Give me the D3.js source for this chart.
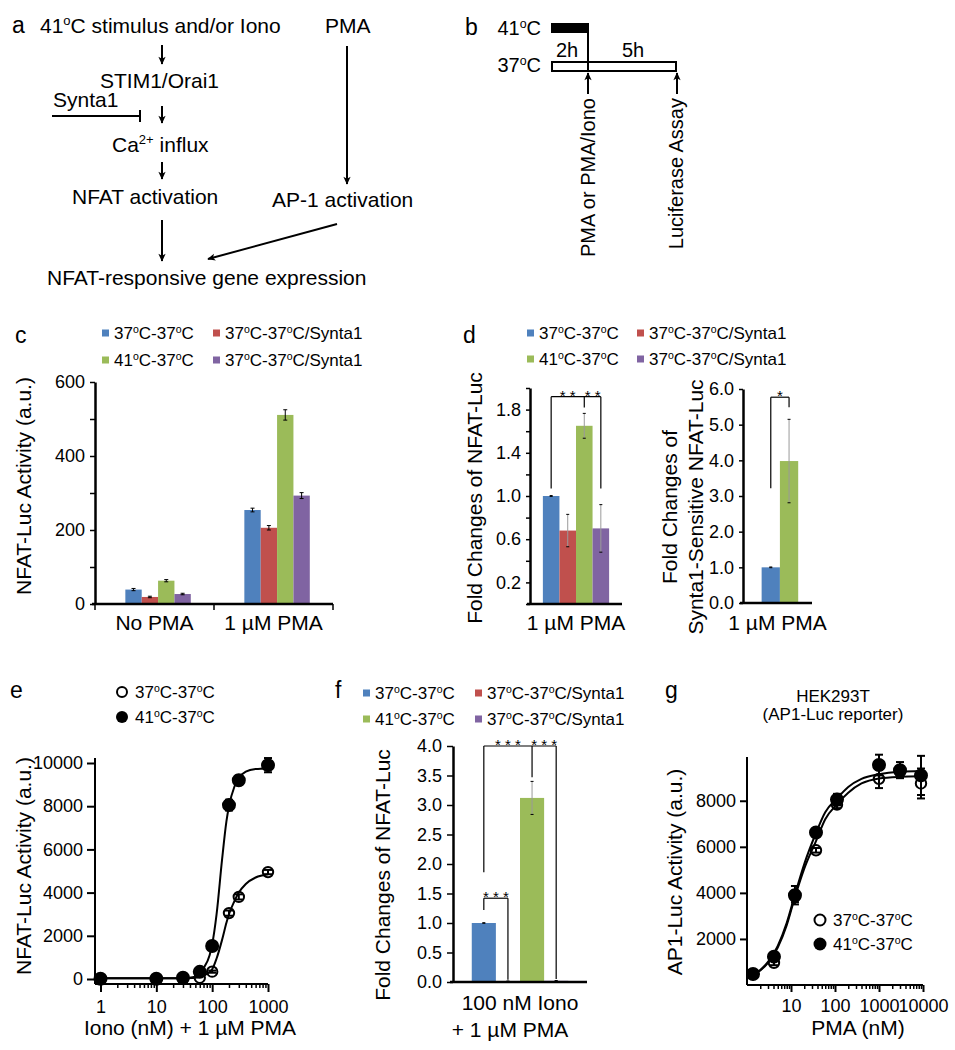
<!DOCTYPE html>
<html><head><meta charset="utf-8">
<script src="https://cdn.jsdelivr.net/npm/d3@7"></script>
<style>
body{margin:0;background:#fff}
svg{display:block}
text{font-family:"Liberation Sans",Arial,Helvetica,sans-serif;fill:#000}
</style>
</head><body>
<svg id="fig" width="955" height="1050"></svg>
<script>
// ================= DATA =================
const legendLabels = ["37°C-37°C", "37°C-37°C/Synta1", "41°C-37°C", "37°C-37°C/Synta1"];
const barColors = ["#4F81BD", "#C0504D", "#9BBB59", "#8064A2"];

// panel c
const cCategories = ["No PMA", "1 µM PMA"];
const c37 = [39, 254];
const c37Synta = [19, 206];
const c41 = [63, 511];
const c41Synta = [27, 293];
const c37Err = [3, 5];
const c37SyntaErr = [2, 6];
const c41Err = [3, 14];
const c41SyntaErr = [2, 8];
const cYTicks = [0, 100, 200, 300, 400, 500, 600];
const cYTickLabels = ["0", "", "200", "", "400", "", "600"];

// panel d (left)
const dCategory = ["1 µM PMA"];
const dValues = [1.0, 0.68, 1.65, 0.70];
const dErr = [0.004, 0.15, 0.115, 0.22];
const dYTicks = [0, 0.2, 0.4, 0.6, 0.8, 1.0, 1.2, 1.4, 1.6, 1.8, 2.0];
const dYTickLabels = ["", "0.2", "", "0.6", "", "1.0", "", "1.4", "", "1.8", ""];
// panel d (right)
const dSensValues = [1.0, 3.98];
const dSensErr = [0.01, 1.17];
const dSensColors = ["#4F81BD", "#9BBB59"];
const dSensYTicks = [0, 1, 2, 3, 4, 5, 6];
const dSensYTickLabels = ["0.0", "1.0", "2.0", "3.0", "4.0", "5.0", "6.0"];

// panel e
const eX = [1, 10, 30, 60, 100, 200, 300, 1000];
const e37 = [10, 10, 20, 60, 340, 3050, 3800, 4950];
const e41 = [15, 15, 60, 330, 1530, 8050, 9200, 9900];
const e37Err = [0, 0, 0, 0, 50, 120, 120, 100];
const e41Err = [0, 0, 0, 0, 80, 250, 220, 330];
const eFitX = [1, 10, 30, 50, 70, 90, 100, 120, 150, 180, 200, 250, 300, 400, 600, 1000];
const eFit41 = [30, 30, 40, 100, 500, 1100, 1600, 3000, 5500, 7300, 8000, 8900, 9300, 9600, 9720, 9750];
const eFit37 = [30, 30, 40, 60, 150, 330, 450, 950, 1800, 2600, 3000, 3600, 4000, 4400, 4700, 4850];
const eYTicks = [0, 2000, 4000, 6000, 8000, 10000];
const eXTicks = [1, 10, 100, 1000];

// panel f
const fCategory = ["100 nM Iono"];
const fValues = [1.0, 0.012, 3.12, 0.02];
const fErr = [0.005, 0.005, 0.28, 0.005];
const fYTicks = [0, 0.5, 1.0, 1.5, 2.0, 2.5, 3.0, 3.5, 4.0];
const fYTickLabels = ["0.0", "0.5", "1.0", "1.5", "2.0", "2.5", "3.0", "3.5", "4.0"];

// panel g
const gX = [1.37, 4.1, 12.3, 37, 111, 1000, 3000, 9000];
const g37 = [470, 960, 3850, 5850, 7830, 8950, 9250, 8750];
const g41 = [480, 1230, 3900, 6620, 8050, 9550, 9330, 9100];
const g37Err = [60, 100, 250, 100, 150, 400, 250, 650];
const g41Err = [60, 120, 400, 120, 250, 450, 350, 850];
const gFitX = [1.37, 2, 3, 5, 8, 12, 20, 37, 60, 111, 200, 400, 1000, 3000, 9000];
const gFit41 = [440, 650, 1000, 1700, 2700, 3850, 5250, 6600, 7500, 8100, 8600, 8950, 9150, 9260, 9290];
const gFit37 = [440, 630, 960, 1630, 2600, 3750, 5050, 6250, 7200, 7850, 8350, 8750, 8970, 9040, 9060];
const gYTicks = [2000, 4000, 6000, 8000];
const gXTicks = [10, 100, 1000, 10000];

// ================= HELPERS =================
const svg = d3.select("#fig");
const defs = svg.append("defs");
defs.append("marker").attr("id", "ah").attr("viewBox", "0 0 10 10")
  .attr("refX", 9).attr("refY", 5).attr("markerWidth", 9).attr("markerHeight", 8)
  .attr("markerUnits", "userSpaceOnUse").attr("orient", "auto")
  .append("path").attr("d", "M0,0.5 L10,5 L0,9.5 L2.5,5 Z").attr("fill", "#000");

function rich(t, str, size) {
  const tokens = str.split(/(°|\^\{[^}]*\})/).filter(s => s !== "");
  let raised = false;
  tokens.forEach(tok => {
    if (tok === "°" || tok.startsWith("^{")) {
      const s = tok === "°" ? "o" : tok.slice(2, -1);
      t.append("tspan").attr("font-size", size * 0.62).attr("dy", raised ? 0 : -size * 0.36).text(s);
      raised = true;
    } else {
      const sp = t.append("tspan").text(tok);
      if (raised) sp.attr("dy", size * 0.36);
      raised = false;
    }
  });
}
function txt(x, y, str, size, anchor, rot) {
  const t = svg.append("text").attr("font-size", size).attr("text-anchor", anchor || "start");
  if (rot) t.attr("transform", `translate(${x},${y}) rotate(${rot})`);
  else t.attr("x", x).attr("y", y);
  rich(t, str, size);
  return t;
}
function line(x1, y1, x2, y2, w, col, arrow) {
  const l = svg.append("line").attr("x1", x1).attr("y1", y1).attr("x2", x2).attr("y2", y2)
    .attr("stroke", col || "#000").attr("stroke-width", w || 2);
  if (arrow) l.attr("marker-end", "url(#ah)");
  return l;
}
function legend(x, y, colDx, rowDy) {
  legendLabels.forEach((lab, i) => {
    const lx = x + (i % 2) * colDx, ly = y + Math.floor(i / 2) * rowDy;
    svg.append("rect").attr("x", lx).attr("y", ly - 3.5).attr("width", 7).attr("height", 7).attr("fill", barColors[i]);
    txt(lx + 12, ly + 6, lab, 17);
  });
}
function styleAxis(g, size) {
  g.attr("font-family", null).attr("font-size", null);
  g.selectAll("text").attr("font-size", size || 18).attr("fill", "#000");
  g.selectAll("line").attr("stroke", "#000");
}

// generic grouped bar chart
function barChart(cfg) {
  const y = d3.scaleLinear().domain(cfg.yDomain).range([cfg.yBottom, cfg.yTop]);
  const x0 = d3.scaleBand().domain(cfg.categories).range([cfg.xLeft, cfg.xRight]);
  const bw = x0.bandwidth();
  const x1 = d3.scaleBand().domain(d3.range(cfg.series.length)).range([bw * cfg.inner[0], bw * cfg.inner[1]]);
  const g = svg.append("g");
  cfg.series.forEach((vals, s) => {
    cfg.categories.forEach((cat, k) => {
      const v = vals[k], e = cfg.errors[s][k];
      const bx = x0(cat) + x1(s);
      g.append("rect").attr("x", bx).attr("y", y(v)).attr("width", x1.bandwidth())
        .attr("height", y(0) - y(v)).attr("fill", cfg.colors[s]);
      const cx = bx + x1.bandwidth() / 2;
      g.append("line").attr("x1", cx).attr("x2", cx).attr("y1", y(v - e)).attr("y2", y(v + e))
        .attr("stroke", cfg.errColor).attr("stroke-width", cfg.errW);
      [v - e, v + e].forEach(ev => g.append("line").attr("x1", cx - cfg.capW / 2).attr("x2", cx + cfg.capW / 2)
        .attr("y1", y(ev)).attr("y2", y(ev)).attr("stroke", "#000").attr("stroke-width", 1));
    });
  });
  const ay = g.append("g").attr("transform", `translate(${cfg.xLeft},0)`)
    .call(d3.axisLeft(y).tickValues(cfg.yTicks).tickSize(cfg.tickLen).tickSizeOuter(0).tickPadding(cfg.tickPad)
      .tickFormat((d, i) => cfg.yTickLabels[i]));
  styleAxis(ay, 18);
  ay.select(".domain").attr("stroke", "#000").attr("stroke-width", 2.5);
  ay.selectAll(".tick line").attr("stroke-width", 1.5);
  const ax = g.append("g").attr("transform", `translate(0,${y(0)})`)
    .call(d3.axisBottom(x0).tickSize(0).tickSizeOuter(0).tickPadding(cfg.xPad));
  styleAxis(ax, 21);
  ax.select(".domain").attr("stroke", "#000").attr("stroke-width", 2.5)
    .attr("d", `M${cfg.xLeft - 3},0H${cfg.xRight}`);
  if (cfg.dividers) {
    const b = cfg.categories.map(c => x0(c)).concat([x0(cfg.categories[cfg.categories.length - 1]) + bw]);
    b.forEach(bx => g.append("line").attr("x1", bx).attr("x2", bx).attr("y1", y(0)).attr("y2", y(0) + 6)
      .attr("stroke", "#000").attr("stroke-width", 1.5));
  }
  const xc = i => x0(cfg.categories[0]) + x1(i) + x1.bandwidth() / 2;
  return { x0, x1, y, xc };
}
function bracket(p, top, legs, stars, starSize) {
  const xs = legs.map(l => p.xc(l[0]));
  line(d3.min(xs), p.y(top), d3.max(xs), p.y(top), 1.2);
  legs.forEach(l => line(p.xc(l[0]), p.y(top), p.xc(l[0]), p.y(l[1]), 1.2));
  stars.forEach(s => {
    const sx = (p.xc(s[0]) + p.xc(s[1])) / 2;
    svg.append("text").attr("x", sx).attr("y", p.y(top) + 4).attr("text-anchor", "middle")
      .attr("font-size", starSize || 15).text(s[2]);
  });
}

// ================= PANEL A =================
txt(12, 33, "a", 23);
txt(40, 33, "41°C stimulus and/or Iono", 21);
txt(325, 33, "PMA", 21);
line(162, 45, 162, 64, 2, null, true);
txt(100, 88, "STIM1/Orai1", 21);
txt(53, 107, "Synta1", 21);
line(52, 116, 140, 116, 2);
line(140, 110, 140, 122, 2);
line(162, 106, 162, 123, 2, null, true);
{
  const t = svg.append("text").attr("x", 112).attr("y", 152).attr("font-size", 21);
  rich(t, "Ca^{2+} influx", 21);
}
line(162, 162, 162, 179, 2, null, true);
txt(72, 204, "NFAT activation", 21);
txt(272, 207, "AP-1 activation", 21);
line(347, 46, 347, 184, 2, null, true);
line(162, 220, 162, 261, 2, null, true);
line(337, 224, 208, 259, 2, null, true);
txt(47, 285, "NFAT-responsive gene expression", 21);

// ================= PANEL B =================
txt(465, 35, "b", 23);
txt(541, 35, "41°C", 20, "end");
txt(541, 72, "37°C", 20, "end");
svg.append("rect").attr("x", 551).attr("y", 23).attr("width", 37).attr("height", 10).attr("fill", "#000");
svg.append("rect").attr("x", 552).attr("y", 62).attr("width", 124).attr("height", 9)
  .attr("fill", "#fff").attr("stroke", "#000").attr("stroke-width", 2);
line(588, 23, 588, 72, 2);
txt(567, 57, "2h", 20, "middle");
txt(633, 57, "5h", 20, "middle");
line(588, 94, 588, 73, 2, null, true);
line(677, 94, 677, 73, 2, null, true);
txt(595, 98, "PMA or PMA/Iono", 20, "end", -90);
txt(683, 98, "Luciferase Assay", 20, "end", -90);

// ================= PANEL C =================
txt(15, 343, "c", 23);
legend(102, 333, 111, 27);
barChart({
  categories: cCategories,
  series: [c37, c37Synta, c41, c41Synta],
  errors: [c37Err, c37SyntaErr, c41Err, c41SyntaErr],
  colors: barColors,
  yDomain: [0, 600], yBottom: 604, yTop: 382,
  xLeft: 95, xRight: 333, inner: [0.255, 0.805],
  yTicks: cYTicks, yTickLabels: cYTickLabels,
  tickLen: 5, tickPad: 5, xPad: 11,
  errColor: "#000", errW: 1, capW: 4, dividers: true
});
txt(31, 486, "NFAT-Luc Activity (a.u.)", 21, "middle", -90);

// ================= PANEL D =================
txt(463, 343, "d", 23);
legend(527, 333, 110, 26);
const pd = barChart({
  categories: dCategory,
  series: dValues.map(v => [v]),
  errors: dErr.map(e => [e]),
  colors: barColors,
  yDomain: [0, 2], yBottom: 604, yTop: 388,
  xLeft: 530, xRight: 622, inner: [0.14, 0.86],
  yTicks: dYTicks, yTickLabels: dYTickLabels,
  tickLen: 4, tickPad: 5, xPad: 11,
  errColor: "#9a9a9a", errW: 1, capW: 3
});
bracket(pd, 1.92, [[0, 1.07], [2, 1.82], [3, 1.07]], [[0, 2, "* *"], [2, 3, "* *"]]);
txt(482, 498, "Fold Changes of NFAT-Luc", 21, "middle", -90);

const pd2 = barChart({
  categories: dCategory,
  series: dSensValues.map(v => [v]),
  errors: dSensErr.map(e => [e]),
  colors: dSensColors,
  yDomain: [0, 6], yBottom: 603, yTop: 389,
  xLeft: 743, xRight: 812, inner: [0.27, 0.8],
  yTicks: dSensYTicks, yTickLabels: dSensYTickLabels,
  tickLen: 4, tickPad: 5, xPad: 12,
  errColor: "#9a9a9a", errW: 1, capW: 3
});
bracket(pd2, 5.77, [[0, 3.22], [1, 5.49]], [[0, 1, "*"]]);
txt(677, 507, "Fold Changes of", 21, "middle", -90);
txt(703, 507, "Synta1-Sensitive NFAT-Luc", 21, "middle", -90);

// ================= PANEL E =================
txt(10, 698, "e", 23);
{
  const ex = d3.scaleLog().domain([1, 1000]).range([100.5, 268]);
  const ey = d3.scaleLinear().domain([0, 10000]).range([979, 763]);
  const axX = 95, axY = 984;
  const g = svg.append("g");
  const ay = g.append("g").attr("transform", `translate(${axX},0)`)
    .call(d3.axisLeft(ey).tickValues(eYTicks).tickSize(8).tickPadding(4).tickSizeOuter(0).tickFormat(d3.format("d")));
  styleAxis(ay, 18);
  ay.select(".domain").attr("stroke", "#000").attr("stroke-width", 2).attr("d", `M0,758V${axY}`);
  ay.selectAll(".tick line").attr("stroke-width", 2);
  const minor = [];
  for (let k = 0; k < 3; k++) for (let m = 2; m <= 9; m++) minor.push(m * Math.pow(10, k));
  const axm = g.append("g").attr("transform", `translate(0,${axY})`)
    .call(d3.axisBottom(ex).tickValues(minor).tickSize(4).tickFormat(""));
  axm.select(".domain").remove();
  axm.selectAll("line").attr("stroke", "#000").attr("stroke-width", 1.5);
  const ax = g.append("g").attr("transform", `translate(0,${axY})`)
    .call(d3.axisBottom(ex).tickValues(eXTicks).tickSize(8).tickPadding(8).tickSizeOuter(0).tickFormat(d3.format("d")));
  styleAxis(ax, 18);
  ax.select(".domain").attr("stroke", "#000").attr("stroke-width", 2).attr("d", `M${axX},0H${ex(1000)}`);
  ax.selectAll(".tick line").attr("stroke-width", 2);
  const ln = d3.line().x(d => ex(d[0])).y(d => ey(d[1])).curve(d3.curveMonotoneX);
  [eFit37, eFit41].forEach(f => g.append("path").attr("d", ln(eFitX.map((x, i) => [x, f[i]])))
    .attr("fill", "none").attr("stroke", "#000").attr("stroke-width", 2));
  [[e37, e37Err, "none"], [e41, e41Err, "#000"]].forEach(([vals, errs, fill]) => {
    vals.forEach((v, i) => {
      const cx = ex(eX[i]);
      if (errs[i] > 0) {
        g.append("line").attr("x1", cx).attr("x2", cx).attr("y1", ey(v - errs[i])).attr("y2", ey(v + errs[i])).attr("stroke", "#000").attr("stroke-width", 2);
        [v - errs[i], v + errs[i]].forEach(ev => g.append("line").attr("x1", cx - 4).attr("x2", cx + 4).attr("y1", ey(ev)).attr("y2", ey(ev)).attr("stroke", "#000").attr("stroke-width", 2));
      }
      g.append("circle").attr("cx", cx).attr("cy", ey(v)).attr("r", fill === "none" ? 5.2 : 6)
        .attr("fill", fill).attr("stroke", "#000").attr("stroke-width", 2);
    });
  });
  svg.append("circle").attr("cx", 122).attr("cy", 692).attr("r", 5).attr("fill", "#fff").attr("stroke", "#000").attr("stroke-width", 2);
  svg.append("circle").attr("cx", 122).attr("cy", 717).attr("r", 6).attr("fill", "#000");
  txt(135, 698, "37°C-37°C", 17);
  txt(135, 723, "41°C-37°C", 17);
  txt(31, 866, "NFAT-Luc Activity (a.u.)", 21, "middle", -90);
  txt(190, 1035, "Iono (nM) + 1 µM PMA", 21, "middle");
}

// ================= PANEL F =================
txt(335, 698, "f", 23);
legend(363, 693, 112, 26);
const pf = barChart({
  categories: fCategory,
  series: fValues.map(v => [v]),
  errors: fErr.map(e => [e]),
  colors: barColors,
  yDomain: [0, 4], yBottom: 982, yTop: 746,
  xLeft: 453, xRight: 587, inner: [0.14, 0.86],
  yTicks: fYTicks, yTickLabels: fYTickLabels,
  tickLen: 6, tickPad: 5, xPad: 13,
  errColor: "#9a9a9a", errW: 1, capW: 3
});
bracket(pf, 4.0, [[0, 1.86], [2, 3.47], [3, 0.05]], [[0, 2, "* * *"], [2, 3, "* * *"]]);
bracket(pf, 1.42, [[0, 1.22], [1, 0.04]], [[0, 1, "* * *"]]);
txt(510, 1037, "+ 1 µM PMA", 21, "middle");
txt(390, 875, "Fold Changes of NFAT-Luc", 21, "middle", -90);

// ================= PANEL G =================
txt(665, 698, "g", 23);
txt(833, 702, "HEK293T", 17, "middle");
txt(833, 720, "(AP1-Luc reporter)", 17, "middle");
{
  const gx = d3.scaleLog().domain([1, 10000]).range([747, 923]);
  const gy = d3.scaleLinear().domain([0, 9900]).range([985, 757]);
  const axX = 747, axY = 985;
  const g = svg.append("g");
  const ay = g.append("g").attr("transform", `translate(${axX},0)`)
    .call(d3.axisLeft(gy).tickValues(gYTicks).tickSize(7).tickPadding(4).tickSizeOuter(0).tickFormat(d3.format("d")));
  styleAxis(ay, 18);
  ay.select(".domain").attr("stroke", "#000").attr("stroke-width", 2).attr("d", `M0,757V${axY}`);
  ay.selectAll(".tick line").attr("stroke-width", 2);
  const minor = [];
  for (let k = 0; k < 4; k++) for (let m = 2; m <= 9; m++) minor.push(m * Math.pow(10, k));
  const axm = g.append("g").attr("transform", `translate(0,${axY})`)
    .call(d3.axisBottom(gx).tickValues(minor).tickSize(4).tickFormat(""));
  axm.select(".domain").remove();
  axm.selectAll("line").attr("stroke", "#000").attr("stroke-width", 1.5);
  const ax = g.append("g").attr("transform", `translate(0,${axY})`)
    .call(d3.axisBottom(gx).tickValues(gXTicks).tickSize(7).tickPadding(7).tickSizeOuter(0).tickFormat(d3.format("d")));
  styleAxis(ax, 18);
  ax.select(".domain").attr("stroke", "#000").attr("stroke-width", 2).attr("d", `M${axX},0H${gx(10000)}`);
  ax.selectAll(".tick line").attr("stroke-width", 2);
  const ln = d3.line().x(d => gx(d[0])).y(d => gy(d[1])).curve(d3.curveMonotoneX);
  [gFit37, gFit41].forEach(f => g.append("path").attr("d", ln(gFitX.map((x, i) => [x, f[i]])))
    .attr("fill", "none").attr("stroke", "#000").attr("stroke-width", 2));
  [[g37, g37Err, "none"], [g41, g41Err, "#000"]].forEach(([vals, errs, fill]) => {
    vals.forEach((v, i) => {
      const cx = gx(gX[i]);
      g.append("line").attr("x1", cx).attr("x2", cx).attr("y1", gy(v - errs[i])).attr("y2", gy(v + errs[i])).attr("stroke", "#000").attr("stroke-width", 2);
      [v - errs[i], v + errs[i]].forEach(ev => g.append("line").attr("x1", cx - 4).attr("x2", cx + 4).attr("y1", gy(ev)).attr("y2", gy(ev)).attr("stroke", "#000").attr("stroke-width", 2));
      g.append("circle").attr("cx", cx).attr("cy", gy(v)).attr("r", fill === "none" ? 5.2 : 6)
        .attr("fill", fill).attr("stroke", "#000").attr("stroke-width", 2);
    });
  });
  svg.append("circle").attr("cx", 820).attr("cy", 920).attr("r", 5.5).attr("fill", "#fff").attr("stroke", "#000").attr("stroke-width", 2);
  svg.append("circle").attr("cx", 820).attr("cy", 944).attr("r", 6.5).attr("fill", "#000");
  txt(833, 926, "37°C-37°C", 17);
  txt(833, 950, "41°C-37°C", 17);
  txt(682, 872, "AP1-Luc Activity (a.u.)", 21, "middle", -90);
  txt(858, 1035, "PMA (nM)", 21, "middle");
}
</script>
</body></html>
